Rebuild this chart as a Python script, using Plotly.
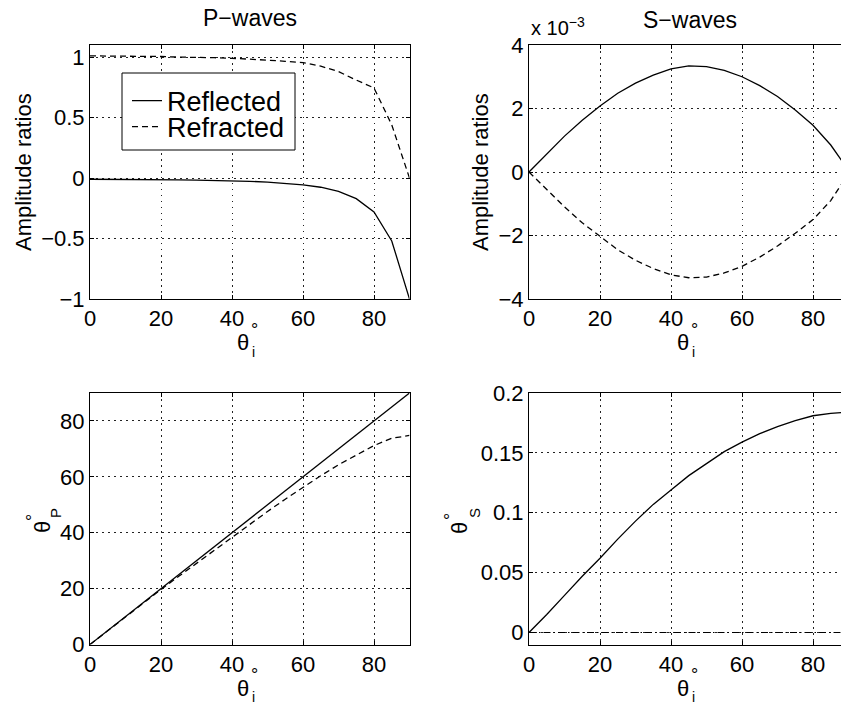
import plotly.graph_objects as go

# ---------------- data ----------------
theta_i = [0, 5, 10, 15, 20, 25, 30, 35, 40, 45, 50, 55, 60, 65, 70, 75, 80, 85, 90]

p_reflected = [-0.010, -0.010, -0.011, -0.012, -0.013, -0.015, -0.017, -0.019, -0.022, -0.027,
               -0.033, -0.042, -0.056, -0.076, -0.11, -0.17, -0.28, -0.52, -1.0]
p_refracted = [1.01, 1.01, 1.01, 1.01, 1.005, 1.0, 1.0, 0.995, 0.99, 0.985,
               0.975, 0.965, 0.955, 0.925, 0.88, 0.81, 0.745, 0.44, 0.0]

# S-wave amplitude ratios, in units of 1e-3
s_reflected_e3 = [0.0, 0.58, 1.13, 1.63, 2.08, 2.48, 2.80, 3.05, 3.25, 3.34,
                  3.32, 3.20, 3.00, 2.72, 2.38, 1.95, 1.47, 0.85, 0.05]
s_refracted_e3 = [0.0, -0.55, -1.10, -1.60, -2.03, -2.45, -2.78, -3.04, -3.24, -3.33,
                  -3.31, -3.18, -2.97, -2.68, -2.33, -1.93, -1.50, -0.90, -0.05]

theta_p_reflected = [0, 5, 10, 15, 20, 25, 30, 35, 40, 45, 50, 55, 60, 65, 70, 75, 80, 85, 90]
theta_p_refracted = [0, 5, 10, 14.9, 19.7, 24.4, 29.1, 33.8, 38.5, 43.1,
                     47.6, 52.0, 56.3, 60.4, 64.3, 67.9, 71.2, 73.8, 74.8]

theta_s_reflected = [0.0, 0.015, 0.031, 0.047, 0.062, 0.078, 0.093, 0.107, 0.119, 0.131,
                     0.141, 0.151, 0.159, 0.166, 0.172, 0.177, 0.181, 0.183, 0.184]
theta_s_refracted = [0.0, 0.0, 0.0, 0.0, 0.0, 0.0, 0.0, 0.0, 0.0, 0.0,
                     0.0, 0.0, 0.0, 0.0, 0.0, 0.0, 0.0, 0.0, 0.0]

x_ticks = [0, 20, 40, 60, 80]
amp_p_ticks = [-1, -0.5, 0, 0.5, 1]
amp_p_ticktext = ["\u22121", "\u22120.5", "0", "0.5", "1"]
amp_s_ticks = [-4, -2, 0, 2, 4]
amp_s_ticktext = ["\u22124", "\u22122", "0", "2", "4"]
thp_ticks = [0, 20, 40, 60, 80]
ths_ticks = [0, 0.05, 0.1, 0.15, 0.2]
ths_ticktext = ["0", "0.05", "0.1", "0.15", "0.2"]

# ---------------- layout helpers ----------------
W, H = 841, 705
FONT = "Liberation Sans, Arial, Helvetica, sans-serif"


def px_x(x):
    return x / W


def px_y(y):
    return 1 - y / H


LEFT_X = [px_x(90), px_x(409.5)]
RIGHT_X = [px_x(529), 1.0]
RIGHT_XMAX = (W - 529) / 3.55
TOP_Y = [px_y(299), px_y(45)]
BOT_Y = [px_y(644.5), px_y(393)]

SOLID = dict(color="black", width=1.3)
DASHED = dict(color="black", width=1.3, dash="6px,4px")
DASHDOT = dict(color="black", width=1.2, dash="7px,3px,1.5px,3px")

fig = go.Figure()

fig.add_trace(go.Scatter(x=theta_i, y=p_reflected, mode="lines", line=SOLID,
                         name="Reflected", legend="legend", xaxis="x", yaxis="y"))
fig.add_trace(go.Scatter(x=theta_i, y=p_refracted, mode="lines", line=DASHED,
                         name="Refracted", legend="legend2", xaxis="x", yaxis="y"))
fig.add_trace(go.Scatter(x=theta_i, y=s_reflected_e3, mode="lines", line=SOLID,
                         showlegend=False, xaxis="x2", yaxis="y2"))
fig.add_trace(go.Scatter(x=theta_i, y=s_refracted_e3, mode="lines", line=DASHED,
                         showlegend=False, xaxis="x2", yaxis="y2"))
fig.add_trace(go.Scatter(x=theta_i, y=theta_p_reflected, mode="lines", line=SOLID,
                         showlegend=False, xaxis="x3", yaxis="y3"))
fig.add_trace(go.Scatter(x=theta_i, y=theta_p_refracted, mode="lines", line=DASHED,
                         showlegend=False, xaxis="x3", yaxis="y3"))
fig.add_trace(go.Scatter(x=theta_i, y=theta_s_refracted, mode="lines", line=DASHDOT,
                         showlegend=False, xaxis="x4", yaxis="y4"))
fig.add_trace(go.Scatter(x=theta_i, y=theta_s_reflected, mode="lines", line=SOLID,
                         showlegend=False, xaxis="x4", yaxis="y4"))

TICKFONT = dict(family=FONT, size=22, color="black")
common = dict(showline=True, linecolor="black", linewidth=1,
              showgrid=True, gridcolor="#222", gridwidth=1, griddash="1.5px,4.5px",
              zeroline=False, ticks="inside", ticklen=4, tickcolor="black",
              tickfont=TICKFONT, fixedrange=True, automargin=False)

LEG_FONT = dict(family=FONT, size=27, color="black")
leg_common = dict(xanchor="left", yanchor="middle", bgcolor="rgba(0,0,0,0)",
                  borderwidth=0, font=LEG_FONT, itemwidth=30, tracegroupgap=0)

fig.update_layout(
    width=W, height=H,
    margin=dict(l=0, r=0, t=0, b=0, pad=0),
    paper_bgcolor="white", plot_bgcolor="white",
    font=dict(family=FONT, color="black"),
    showlegend=True,
    legend=dict(x=px_x(127), y=px_y(101), **leg_common),
    legend2=dict(x=px_x(127), y=px_y(127), **leg_common),
    xaxis=dict(domain=LEFT_X, anchor="y", range=[0, 90], tickvals=x_ticks,
               mirror="ticks", **common),
    yaxis=dict(domain=TOP_Y, anchor="x", range=[-1, 1.1], tickvals=amp_p_ticks,
               ticktext=amp_p_ticktext, mirror="ticks", **common),
    xaxis2=dict(domain=RIGHT_X, anchor="y2", range=[0, RIGHT_XMAX], tickvals=x_ticks,
                mirror="ticks", **common),
    yaxis2=dict(domain=TOP_Y, anchor="x2", range=[-4, 4], tickvals=amp_s_ticks,
                ticktext=amp_s_ticktext, mirror=False, **common),
    xaxis3=dict(domain=LEFT_X, anchor="y3", range=[0, 90], tickvals=x_ticks,
                mirror="ticks", **common),
    yaxis3=dict(domain=BOT_Y, anchor="x3", range=[0, 90], tickvals=thp_ticks,
                mirror="ticks", **common),
    xaxis4=dict(domain=RIGHT_X, anchor="y4", range=[0, RIGHT_XMAX], tickvals=x_ticks,
                mirror="ticks", **common),
    yaxis4=dict(domain=BOT_Y, anchor="x4", range=[-0.01, 0.2], tickvals=ths_ticks,
                ticktext=ths_ticktext, mirror=False, **common),
)

# legend box (opaque, covers grid lines like the original)
fig.add_shape(type="rect", xref="paper", yref="paper",
              x0=px_x(122), x1=px_x(295), y0=px_y(150), y1=px_y(73),
              line=dict(color="black", width=1), fillcolor="white", layer="above")

annotations = []


def ann(text, x, y, size, angle=0, xanchor="center", yanchor="middle"):
    annotations.append(dict(text=text, x=px_x(x), y=px_y(y), xref="paper", yref="paper",
                            showarrow=False, textangle=angle, xanchor=xanchor,
                            yanchor=yanchor, font=dict(family=FONT, size=size, color="black")))


# titles
ann("P\u2212waves", 250, 18, 23)
ann("S\u2212waves", 690, 20, 23)
# y labels
ann("Amplitude ratios", 23, 172, 22, angle=-90)
ann("Amplitude ratios", 480, 172, 22, angle=-90)
ann("x 10<sup>\u22123</sup>", 529, 26, 20, xanchor="left")

# x labels  theta_i with degree sign
for cx, ay in [(243, 299), (683, 299), (243, 644), (683, 644)]:
    ann("\u03b8", cx, ay + 44, 22)
    ann("i", cx + 10, ay + 53, 14)
    ann("\u00b0", cx + 11, ay + 31, 18)

# rotated y labels theta_P and theta_S
ann("\u03b8", 42, 527, 22, angle=-90)
ann("\u00b0", 33, 518, 18, angle=-90)
ann("P", 55, 513, 15, angle=-90)
ann("\u03b8", 459, 528, 22, angle=-90)
ann("\u00b0", 451, 517, 18, angle=-90)
ann("S", 474, 513, 15, angle=-90)

fig.update_layout(annotations=annotations)

fig.write_html("out.html", config={"displayModeBar": False},
               post_script="document.body.style.margin='0';")
